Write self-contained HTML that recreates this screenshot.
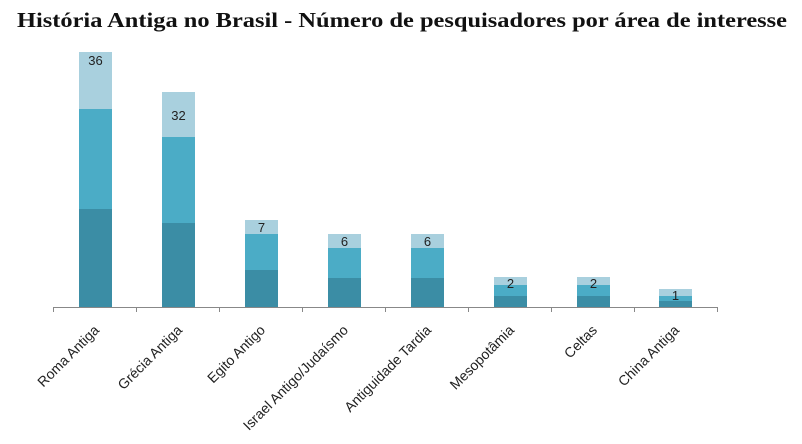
<!DOCTYPE html>
<html><head><meta charset="utf-8"><style>html,body{margin:0;padding:0;background:#fff}svg{display:block}</style></head>
<body>
<svg width="802" height="444" xmlns="http://www.w3.org/2000/svg">
<text x="17" y="27" font-family="Liberation Serif, serif" font-weight="bold" font-size="21" textLength="770" lengthAdjust="spacingAndGlyphs" fill="#111">História Antiga no Brasil - Número de pesquisadores por área de interesse</text>
<line x1="53" y1="307.5" x2="717" y2="307.5" stroke="#888" stroke-width="1"/>
<g stroke="#888">
<line x1="53.5" y1="307" x2="53.5" y2="312"/><line x1="136.5" y1="307" x2="136.5" y2="312"/><line x1="219.5" y1="307" x2="219.5" y2="312"/><line x1="302.5" y1="307" x2="302.5" y2="312"/><line x1="385.5" y1="307" x2="385.5" y2="312"/><line x1="468.5" y1="307" x2="468.5" y2="312"/><line x1="551.5" y1="307" x2="551.5" y2="312"/><line x1="634.5" y1="307" x2="634.5" y2="312"/><line x1="717.5" y1="307" x2="717.5" y2="312"/>
</g>
<g font-family="Liberation Sans, sans-serif" font-size="13" fill="#222">
<rect x="79" y="52" width="33" height="57" fill="#a9d0de"/><rect x="79" y="109" width="33" height="100" fill="#4bacc6"/><rect x="79" y="209" width="33" height="98" fill="#3b8da5"/>
<text x="95.5" y="65" text-anchor="middle">36</text>
<rect x="162" y="92" width="33" height="45" fill="#a9d0de"/><rect x="162" y="137" width="33" height="86" fill="#4bacc6"/><rect x="162" y="223" width="33" height="84" fill="#3b8da5"/>
<text x="178.5" y="120" text-anchor="middle">32</text>
<rect x="245" y="220" width="33" height="14" fill="#a9d0de"/><rect x="245" y="234" width="33" height="36" fill="#4bacc6"/><rect x="245" y="270" width="33" height="37" fill="#3b8da5"/>
<text x="261.5" y="232" text-anchor="middle">7</text>
<rect x="328" y="234" width="33" height="14" fill="#a9d0de"/><rect x="328" y="248" width="33" height="30" fill="#4bacc6"/><rect x="328" y="278" width="33" height="29" fill="#3b8da5"/>
<text x="344.5" y="246" text-anchor="middle">6</text>
<rect x="411" y="234" width="33" height="14" fill="#a9d0de"/><rect x="411" y="248" width="33" height="30" fill="#4bacc6"/><rect x="411" y="278" width="33" height="29" fill="#3b8da5"/>
<text x="427.5" y="246" text-anchor="middle">6</text>
<rect x="494" y="277" width="33" height="8" fill="#a9d0de"/><rect x="494" y="285" width="33" height="11" fill="#4bacc6"/><rect x="494" y="296" width="33" height="11" fill="#3b8da5"/>
<text x="510.5" y="288" text-anchor="middle">2</text>
<rect x="577" y="277" width="33" height="8" fill="#a9d0de"/><rect x="577" y="285" width="33" height="11" fill="#4bacc6"/><rect x="577" y="296" width="33" height="11" fill="#3b8da5"/>
<text x="593.5" y="288" text-anchor="middle">2</text>
<rect x="659" y="289" width="33" height="7" fill="#a9d0de"/><rect x="659" y="296" width="33" height="5" fill="#4bacc6"/><rect x="659" y="301" width="33" height="6" fill="#3b8da5"/>
<text x="675.5" y="300" text-anchor="middle">1</text>
</g>
<g font-family="Liberation Sans, sans-serif" font-size="14" fill="#222" text-anchor="end">
<text transform="translate(100,331) rotate(-45)">Roma Antiga</text>
<text transform="translate(183,331) rotate(-45)">Grécia Antiga</text>
<text transform="translate(266,331) rotate(-45)">Egito Antigo</text>
<text transform="translate(349,331) rotate(-45)">Israel Antigo/Judaísmo</text>
<text transform="translate(432,331) rotate(-45)">Antiguidade Tardia</text>
<text transform="translate(515,331) rotate(-45)">Mesopotâmia</text>
<text transform="translate(598,331) rotate(-45)">Celtas</text>
<text transform="translate(680,331) rotate(-45)">China Antiga</text>
</g>
</svg>
</body></html>
